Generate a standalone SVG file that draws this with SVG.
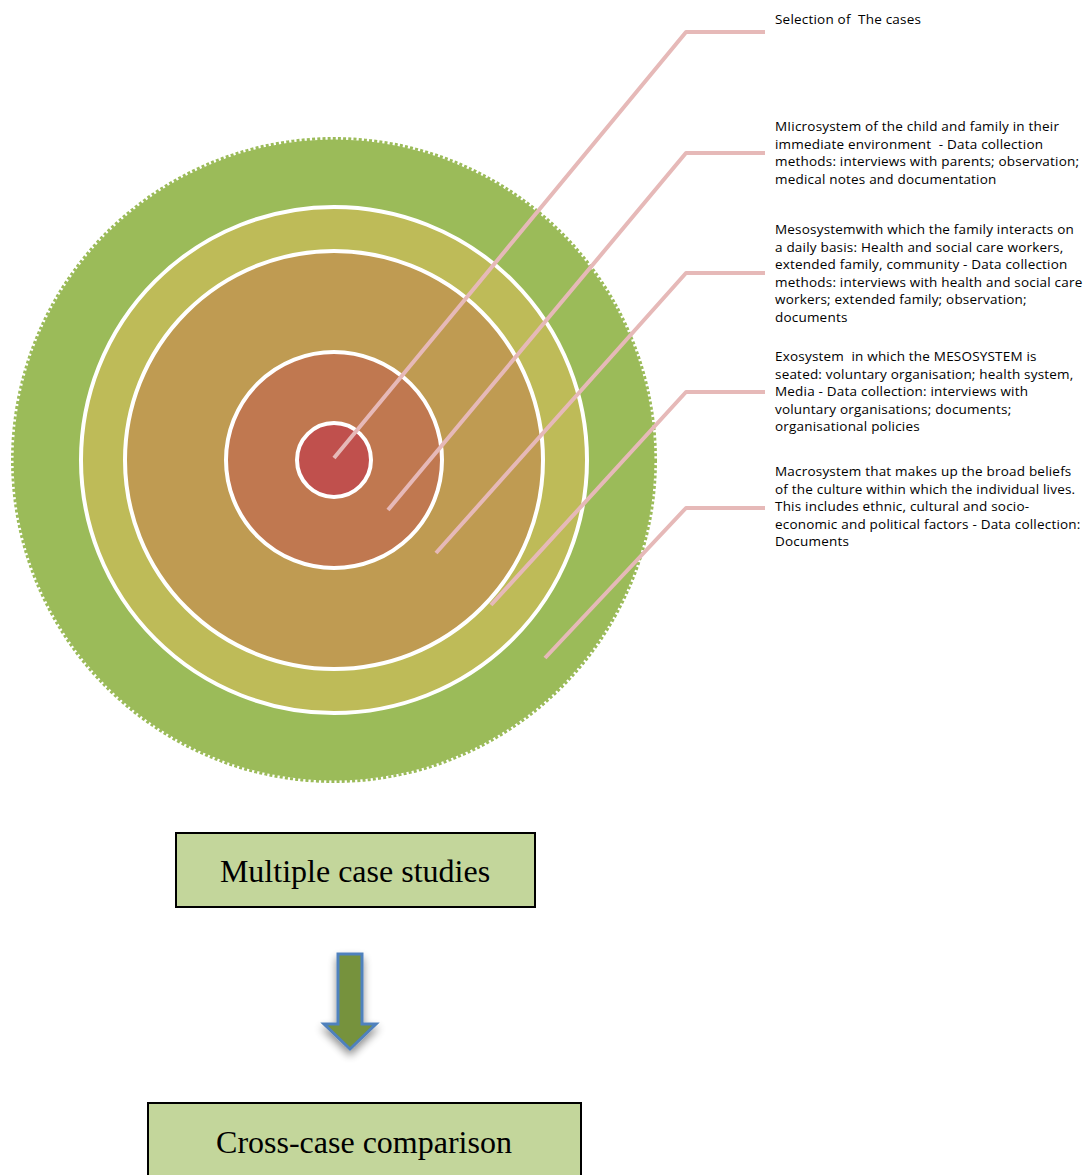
<svg xmlns="http://www.w3.org/2000/svg" width="1089" height="1175" viewBox="0 0 1089 1175">
<defs>
<style>
.lbl{font-family:"Open Sans","Liberation Sans",Arial,sans-serif;font-size:13.5px;letter-spacing:0.2px;fill:#000;white-space:pre}
.big{font-family:"Liberation Serif","Times New Roman",serif;font-size:32px;fill:#000;text-anchor:middle}
.leader{fill:none;stroke:#E6B9B8;stroke-width:4;stroke-linejoin:round}
.ring{stroke:#fff;stroke-width:4}
.box{fill:#C3D69B;stroke:#000;stroke-width:2}
</style>
<filter id="sh" x="-50%" y="-30%" width="200%" height="180%">
<feGaussianBlur in="SourceAlpha" stdDeviation="4"/>
<feOffset dx="0" dy="5" result="b"/>
<feComponentTransfer><feFuncA type="linear" slope="0.45"/></feComponentTransfer>
<feMerge><feMergeNode/><feMergeNode in="SourceGraphic"/></feMerge>
</filter>
</defs>
<rect width="1089" height="1175" fill="#fff"/>
<g id="macrosystem">
<circle cx="334" cy="460" r="320.5" fill="#9BBB59"/>
<circle cx="334" cy="460" r="321.5" fill="none" stroke="#9BBB59" stroke-width="3" stroke-dasharray="3 2.2"/>
</g>
<g id="exosystem"><circle class="ring" cx="334" cy="460" r="253" fill="#BEBB58"/></g>
<g id="mesosystem"><circle class="ring" cx="334" cy="460" r="209" fill="#BF9B52"/></g>
<g id="microsystem"><circle class="ring" cx="334" cy="460" r="108" fill="#C07850"/></g>
<g id="cases"><circle class="ring" cx="334" cy="460" r="37" fill="#C0504D"/></g>
<g id="connectors">
<polyline class="leader" points="334,458 686,32 765,32"/>
<polyline class="leader" points="388,510 686,153 765,153"/>
<polyline class="leader" points="436,553 686,273 765,273"/>
<polyline class="leader" points="491,605 686,392 765,392"/>
<polyline class="leader" points="545,658 686,508 765,508"/>
<g filter="url(#sh)">
<polygon points="338,954 362,954 362,1024 376,1024 350,1049 324,1024 338,1024" fill="#76923C" stroke="#4F81BD" stroke-width="3" stroke-linejoin="miter"/>
</g>
</g>
<g id="label-cases"><text class="lbl" x="775" y="24">Selection of  The cases</text></g>
<g id="label-micro">
<text class="lbl" x="775" y="131">MIicrosystem of the child and family in their</text>
<text class="lbl" x="775" y="148.5">immediate environment  - Data collection</text>
<text class="lbl" x="775" y="166">methods: interviews with parents; observation;</text>
<text class="lbl" x="775" y="183.5">medical notes and documentation</text>
</g>
<g id="label-meso">
<text class="lbl" x="775" y="234">Mesosystemwith which the family interacts on</text>
<text class="lbl" x="775" y="251.5">a daily basis: Health and social care workers,</text>
<text class="lbl" x="775" y="269">extended family, community - Data collection</text>
<text class="lbl" x="775" y="286.5">methods: interviews with health and social care</text>
<text class="lbl" x="775" y="304">workers; extended family; observation;</text>
<text class="lbl" x="775" y="321.5">documents</text>
</g>
<g id="label-exo">
<text class="lbl" x="775" y="361">Exosystem  in which the MESOSYSTEM is</text>
<text class="lbl" x="775" y="378.5">seated: voluntary organisation; health system,</text>
<text class="lbl" x="775" y="396">Media - Data collection: interviews with</text>
<text class="lbl" x="775" y="413.5">voluntary organisations; documents;</text>
<text class="lbl" x="775" y="431">organisational policies</text>
</g>
<g id="label-macro">
<text class="lbl" x="775" y="476">Macrosystem that makes up the broad beliefs</text>
<text class="lbl" x="775" y="493.5">of the culture within which the individual lives.</text>
<text class="lbl" x="775" y="511">This includes ethnic, cultural and socio-</text>
<text class="lbl" x="775" y="528.5">economic and political factors - Data collection:</text>
<text class="lbl" x="775" y="546">Documents</text>
</g>
<g id="multiple-case-studies">
<rect class="box" x="176" y="833" width="359" height="74"/>
<text class="big" x="355" y="882">Multiple case studies</text>
</g>
<g id="cross-case-comparison">
<rect class="box" x="148" y="1103" width="433" height="80"/>
<text class="big" x="364" y="1153">Cross-case comparison</text>
</g>
</svg>
